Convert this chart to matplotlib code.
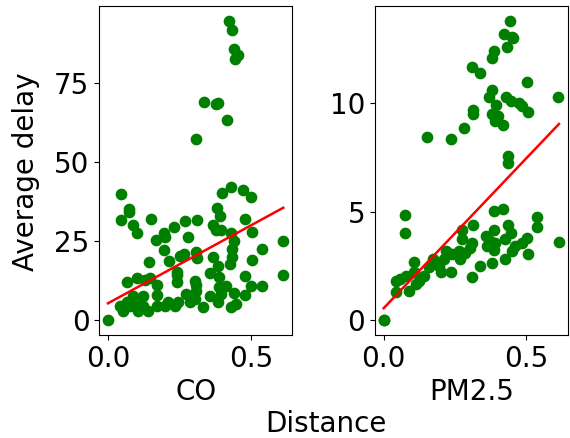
import numpy as np
import matplotlib
matplotlib.use("Agg")
import matplotlib.pyplot as plt

# data
co_x = [0.0, 0.422, 0.432, 0.44, 0.455, 0.445, 0.334, 0.376, 0.385, 0.414, 0.307,
        0.046, 0.075, 0.073, 0.044, 0.087, 0.1, 0.15, 0.167, 0.195, 0.2, 0.231, 0.268, 0.311, 0.28,
        0.195, 0.212, 0.142, 0.251, 0.264, 0.309, 0.311, 0.24, 0.24, 0.24,
        0.399, 0.43, 0.473, 0.5, 0.382, 0.39, 0.479, 0.367, 0.378, 0.395, 0.43, 0.44, 0.502, 0.538,
        0.612, 0.612, 0.502, 0.434, 0.434, 0.425, 0.367, 0.385, 0.387, 0.387, 0.355, 0.48, 0.5, 0.538,
        0.477, 0.413, 0.44, 0.448, 0.43, 0.355, 0.384, 0.396, 0.332,
        0.303, 0.307, 0.309, 0.303, 0.286, 0.274,
        0.245, 0.234, 0.21, 0.199, 0.17, 0.141, 0.106, 0.054, 0.043,
        0.068, 0.1, 0.13, 0.147, 0.17, 0.17, 0.124, 0.089, 0.066, 0.1, 0.124, 0.078]
co_y = [0.0, 94.4, 91.6, 85.7, 83.6, 82.5, 69.0, 68.2, 68.5, 63.2, 57.3,
        39.7, 35.2, 34.0, 31.5, 30.1, 27.4, 31.8, 25.4, 27.4, 26.1, 29.3, 31.3, 31.6, 26.1,
        22.0, 18.7, 18.4, 20.3, 21.0, 21.5, 19.5, 15.2, 14.2, 12.1,
        40.0, 41.9, 41.0, 39.0, 35.5, 32.9, 31.8, 30.1, 28.4, 28.4, 27.4, 25.0, 27.8, 22.6,
        25.0, 14.4, 19.1, 22.6, 19.8, 17.7, 19.8, 17.1, 13.5, 10.5, 15.0, 14.0, 10.8, 10.8,
        7.9, 10.8, 8.7, 5.0, 4.0, 7.7, 5.6, 8.2, 4.2,
        12.4, 11.1, 9.3, 6.6, 5.6, 8.2,
        5.6, 4.5, 5.6, 4.5, 4.5, 2.9, 2.9, 2.9, 4.5,
        11.9, 13.2, 12.8, 13.2, 11.1, 7.9, 7.7, 7.7, 5.6, 5.6, 4.5, 4.5]

pm_x = [0.0, 0.0, 0.443, 0.424, 0.45, 0.456, 0.433, 0.387, 0.379,
        0.309, 0.337, 0.503, 0.379, 0.369, 0.395, 0.431, 0.447,
        0.474, 0.486, 0.506, 0.614, 0.313, 0.313, 0.38, 0.402, 0.392, 0.418,
        0.282, 0.152, 0.237, 0.436, 0.436,
        0.076, 0.076, 0.387, 0.418, 0.54, 0.54, 0.616, 0.314,
        0.276, 0.276, 0.436, 0.447, 0.426,
        0.387, 0.358, 0.375, 0.392, 0.364, 0.387,
        0.505, 0.486, 0.462, 0.45, 0.506,
        0.426, 0.38, 0.337, 0.309,
        0.312, 0.305, 0.287, 0.264, 0.27,
        0.241, 0.218, 0.213, 0.236, 0.201, 0.195,
        0.172, 0.16, 0.143, 0.125, 0.108, 0.108, 0.079, 0.056, 0.044, 0.044, 0.09, 0.114]
pm_y = [0.0, 0.0, 13.8, 13.2, 13.07, 13.0, 12.6, 12.4, 12.1,
        11.7, 11.4, 11.0, 10.6, 10.3, 9.95, 10.3, 10.1,
        10.0, 9.9, 9.6, 10.3, 9.7, 9.5, 9.5, 9.4, 9.2, 9.0,
        8.85, 8.47, 8.37, 7.57, 7.27,
        4.85, 4.0, 5.04, 5.15, 4.78, 4.32, 3.6, 4.38,
        4.15, 3.76, 4.38, 4.0, 3.73,
        4.16, 3.86, 3.66, 3.58, 3.4, 3.24,
        3.78, 3.58, 3.4, 3.19, 3.04,
        2.81, 2.63, 2.5, 2.0,
        3.58, 3.35, 3.12, 3.19, 2.81,
        3.04, 3.19, 2.81, 2.2, 2.2, 2.5,
        2.81, 2.43, 2.04, 1.81, 2.66, 2.2, 2.04, 1.89, 1.81, 1.28, 1.35, 1.66]

# fitted line (slope, intercept)
co_fit = [49.3, 5.3]
pm_fit = [13.8, 0.55]

panels = [("CO", co_x, co_y, co_fit), ("PM2.5", pm_x, pm_y, pm_fit)]

plt.rcParams["font.size"] = 20
fig, axes = plt.subplots(1, 2, figsize=(5.7, 4.38), dpi=100)
fig.subplots_adjust(left=0.174, right=0.996, bottom=0.235, top=0.986, wspace=0.43)

for ax, (name, x, y, fit) in zip(axes, panels):
    ax.scatter(x, y, color="green", s=55, zorder=2)
    xs = np.linspace(min(x), max(x), 50)
    ax.plot(xs, fit[0] * xs + fit[1], color="red", lw=1.8, zorder=3)
    ax.set_xlabel(name)

axes[0].set_yticks([0, 25, 50, 75])
axes[1].set_yticks([0, 5, 10])
for ax in axes:
    ax.set_xticks([0.0, 0.5])

fig.text(0.572, 0.032, "Distance", ha="center", va="center")
fig.text(0.046, 0.607, "Average delay", ha="center", va="center", rotation=90)

fig.savefig("out.png", dpi=100)
